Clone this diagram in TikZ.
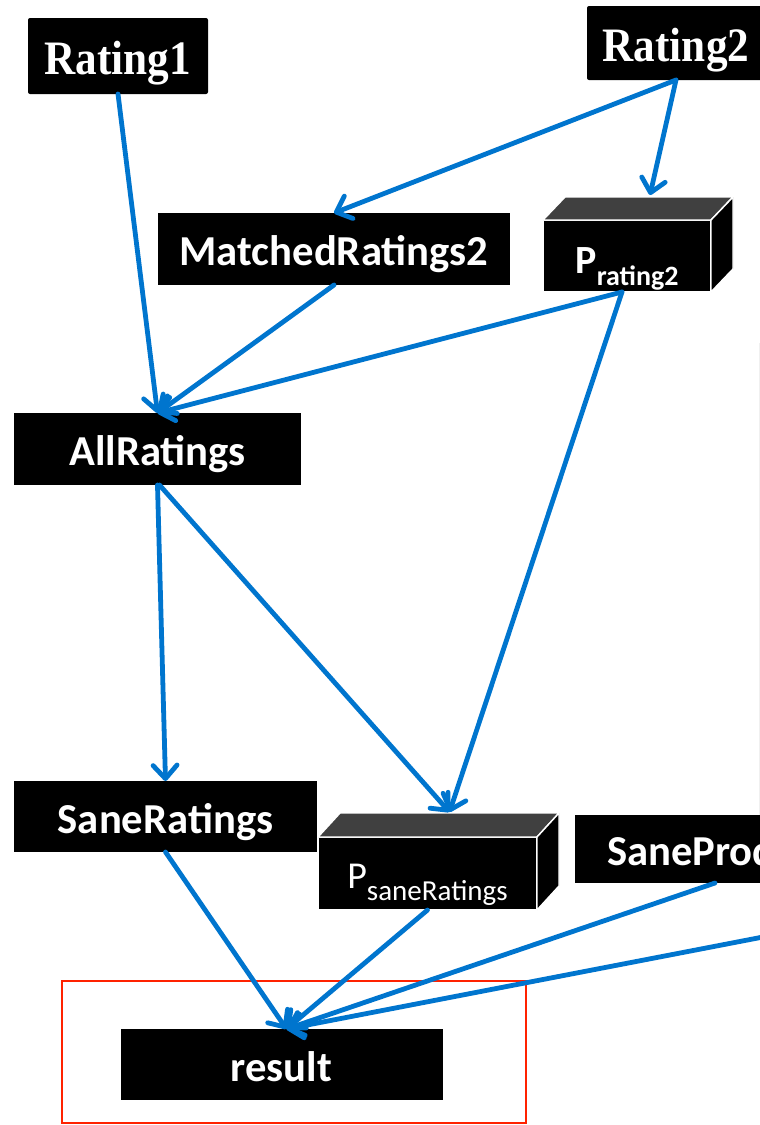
\documentclass[tikz,border=0pt]{standalone}
\usepackage{fontspec}
\setmainfont{Carlito}
\newfontfamily\serifhead[FakeStretch=0.9]{Liberation Serif}
\usetikzlibrary{arrows.meta,calc}
\definecolor{flowblue}{RGB}{0,117,206}
\definecolor{boxred}{RGB}{255,34,0}
\definecolor{cubetop}{RGB}{64,64,64}
\begin{document}
\begin{tikzpicture}[x=0.75pt,y=-0.75pt,
  every node/.style={outer sep=0pt},
  blk/.style={fill=black, text=white, inner sep=0pt,
    text height=27pt, text depth=2pt,
    font=\fontsize{32}{36}\selectfont\bfseries},
  srcbox/.style={blk, rounded corners=1.5pt,
    text height=30pt, text depth=3pt,
    font=\serifhead\fontsize{36}{40}\selectfont\bfseries},
  cubefront/.style={fill=black, draw=white, line width=1.1pt, inner sep=0pt, text=white},
  cubeface/.style={draw=white, line width=1.1pt, line join=round},
  flow/.style={draw=flowblue, line width=3.6pt, line cap=round,
    -{Straight Barb[length=10pt,width=18pt,round]}},
]
\useasboundingbox (0,0) rectangle (760,1125);

% faint edge of a box beyond the right margin
\draw[black!6, line width=0.75pt] (759,343) -- (759,815);

% source tables
\node[srcbox, minimum width=135pt, minimum height=57pt] (r1) at (118,56) {Rating1};
\node[srcbox, minimum width=133.5pt, minimum height=55.5pt] (r2) at (676,43) {Rating2};

% derived tables
\node[blk, minimum width=264pt, minimum height=54pt] (mr2) at (334,249) {MatchedRatings2};
\node[blk, minimum width=215.25pt, minimum height=54pt] (all) at (157.5,449) {AllRatings};
\node[blk, minimum width=227.25pt, minimum height=53.25pt] (sr) at (165.5,816.5) {SaneRatings};
\node[blk, anchor=west, inner xsep=24pt, minimum height=51pt] (sp) at (575,849) {SaneProd};
\node[blk, minimum width=241.5pt, minimum height=53.25pt] (res) at (281.5,1064.5) {result};

% highlight frame around the result
\draw[boxred, line width=1.1pt] (62,981) rectangle (526,1123);

% parameter cubes
\node[cubefront, minimum width=126pt, minimum height=54pt] (pr2) at (627,256)
  {\raisebox{-12.75pt}[0pt][0pt]{\bfseries\fontsize{30}{30}\selectfont P%
   \fontsize{21}{22}\selectfont\raisebox{-9pt}{rating2}}};
\filldraw[cubeface, fill=cubetop] (pr2.north west) -- ++(22,-23)
  -- ($(pr2.north east)+(22,-23)$) -- (pr2.north east) -- cycle;
\filldraw[cubeface, fill=black] (pr2.north east) -- ++(22,-23)
  -- ($(pr2.south east)+(22,-23)$) -- (pr2.south east) -- cycle;

\node[cubefront, minimum width=164.25pt, minimum height=54.75pt] (ps) at (427.5,873.5)
  {\raisebox{-10.9pt}[0pt][0pt]{\fontsize{28.5}{30}\selectfont P%
   \fontsize{21.75}{22}\selectfont\raisebox{-9pt}{saneRatings}}};
\filldraw[cubeface, fill=cubetop] (ps.north west) -- ++(22,-24)
  -- ($(ps.north east)+(22,-24)$) -- (ps.north east) -- cycle;
\filldraw[cubeface, fill=black] (ps.north east) -- ++(22,-24)
  -- ($(ps.south east)+(22,-24)$) -- (ps.south east) -- cycle;

% connector end points
\coordinate (pr2in) at ($(pr2.north)+(23,-25)$);
\coordinate (psin) at ($(ps.north)+(22,-25)$);
\coordinate (resin) at ($(res.north)+(5,0)$);
\coordinate (spout) at ($(sp.south west)+(140,0)$);
\coordinate (east) at (820,926);

% data flow
\draw[flow] (r1.south) -- (all.north);
\draw[flow] (r2.south) -- (mr2.north);
\draw[flow] (r2.south) -- (pr2in);
\draw[flow] (mr2.south) -- (all.north);
\draw[flow] ($(pr2.south)+(-5,0)$) -- (all.north);
\draw[flow] ($(pr2.south)+(-5,0)$) -- (psin);
\draw[flow] (all.south) -- (sr.north);
\draw[flow] ($(all.south)+(2,0)$) -- (psin);
\draw[flow] (sr.south) -- (resin);
\draw[flow] (ps.south) -- (resin);
\draw[flow] (spout) -- (resin);
\draw[flow] (east) -- (resin);
\end{tikzpicture}
\end{document}
